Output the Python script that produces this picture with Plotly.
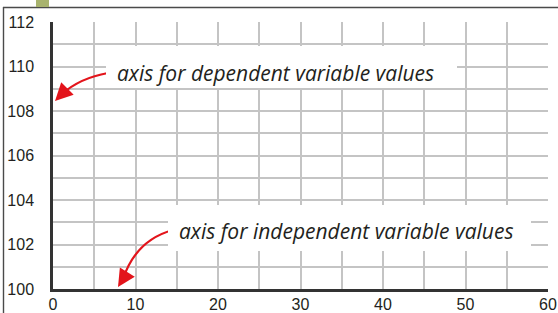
import plotly.graph_objects as go

# ---- data ----
x_ticks = [0, 10, 20, 30, 40, 50, 60]
y_ticks = [100, 102, 104, 106, 108, 110, 112]
x_range = [0, 60]
y_range = [100, 112]
label_dependent = "axis for dependent variable values"
label_independent = "axis for independent variable values"

W, H = 558, 313
L, R, T, B = 53, 10, 22, 24
pw = W - L - R
ph = H - T - B

def px2x(px):
    return x_range[0] + (px - L) / pw * (x_range[1] - x_range[0])

def px2y(py):
    return y_range[0] + (T + ph - py) / ph * (y_range[1] - y_range[0])

def px2px_paper(px):
    return (px - L) / pw

def py2paper(py):
    return (T + ph - py) / ph

RED = "#e3141b"
INK = "#231f20"
GRID = "#c4c4c4"

fig = go.Figure()
fig.add_trace(go.Scatter(x=x_range, y=y_range, mode="markers",
                         marker=dict(opacity=0), hoverinfo="skip", showlegend=False))

shapes = []
# curved arrows
def curve(p0, c, p1):
    return (f"M {px2x(p0[0])},{px2y(p0[1])} Q {px2x(c[0])},{px2y(c[1])} "
            f"{px2x(p1[0])},{px2y(p1[1])}")

arrows = [((108, 73), (80, 78), (62, 94), (55, 101)),
          ((173, 230), (136, 240), (123, 279), (118, 287))]
for start, ctrl, end, tip in arrows:
    shapes.append(dict(type="path", xref="x", yref="y", path=curve(start, ctrl, end),
                       line=dict(color=RED, width=2.2), layer="above"))

# outer frame
shapes.append(dict(type="line", xref="paper", yref="paper",
                   x0=px2px_paper(3), x1=px2px_paper(W), y0=py2paper(7.5), y1=py2paper(7.5),
                   line=dict(color="#4a4a4a", width=1.6)))
shapes.append(dict(type="line", xref="paper", yref="paper",
                   x0=px2px_paper(3.5), x1=px2px_paper(3.5), y0=py2paper(7), y1=py2paper(H),
                   line=dict(color="#4a4a4a", width=1.4)))
shapes.append(dict(type="rect", xref="paper", yref="paper",
                   x0=px2px_paper(36), x1=px2px_paper(49), y0=py2paper(7), y1=py2paper(-2),
                   fillcolor="#a8b36e", line=dict(width=0)))

annotations = []
# white label boxes (cover gridlines)
for (x0, x1, y0, y1) in [(106, 457, 46, 88), (168, 531, 205, 251)]:
    annotations.append(dict(x=px2x(x0), y=px2y(y0), xref="x", yref="y",
                            xanchor="left", yanchor="top", text="", showarrow=False,
                            width=x1 - x0, height=y1 - y0, bgcolor="white",
                            borderpad=0, borderwidth=0))
annotations += [
    dict(x=px2x(115), y=px2y(73), xref="x", yref="y", text=label_dependent,
         xanchor="left", yanchor="middle", showarrow=False,
         font=dict(family="Open Sans", size=21, color=INK, style="italic")),
    dict(x=px2x(177), y=px2y(231), xref="x", yref="y", text=label_independent,
         xanchor="left", yanchor="middle", showarrow=False,
         font=dict(family="Open Sans", size=21, color=INK, style="italic")),
]
# arrowheads
for start, ctrl, end, tip in arrows:
    annotations.append(dict(x=px2x(tip[0]), y=px2y(tip[1]), xref="x", yref="y",
                            ax=end[0] - tip[0] + (end[0] - tip[0]) * 0.6,
                            ay=end[1] - tip[1] + (end[1] - tip[1]) * 0.6,
                            axref="pixel", ayref="pixel", text="", showarrow=True,
                            arrowhead=2, arrowsize=1.6, arrowwidth=2.2, arrowcolor=RED,
                            standoff=0))

fig.update_layout(
    width=W, height=H,
    margin=dict(l=L, r=R, t=T, b=B, pad=0, autoexpand=False),
    paper_bgcolor="white", plot_bgcolor="white",
    showlegend=False,
    shapes=shapes, annotations=annotations,
    xaxis=dict(range=x_range, tickvals=x_ticks, showgrid=True, gridcolor=GRID, gridwidth=1.5,
               minor=dict(dtick=5, tick0=0, showgrid=True, gridcolor=GRID, gridwidth=1.5),
               showline=True, linecolor="#333333", linewidth=2.5, zeroline=False,
               automargin=False, ticks="", ticklabelstandoff=-1,
               tickfont=dict(family="Liberation Sans", size=16, color=INK)),
    yaxis=dict(range=y_range, tickvals=y_ticks, showgrid=True, gridcolor=GRID, gridwidth=1.5,
               minor=dict(dtick=1, tick0=100, showgrid=True, gridcolor=GRID, gridwidth=1.5),
               showline=True, linecolor="#333333", linewidth=2.5, zeroline=False,
               automargin=False,
               ticks="outside", ticklen=13, tickcolor="rgba(0,0,0,0)",
               tickfont=dict(family="Liberation Sans", size=16, color=INK)),
)

fig.write_html("out.html", config={"displayModeBar": False},
               post_script="document.body.style.margin='0';")
